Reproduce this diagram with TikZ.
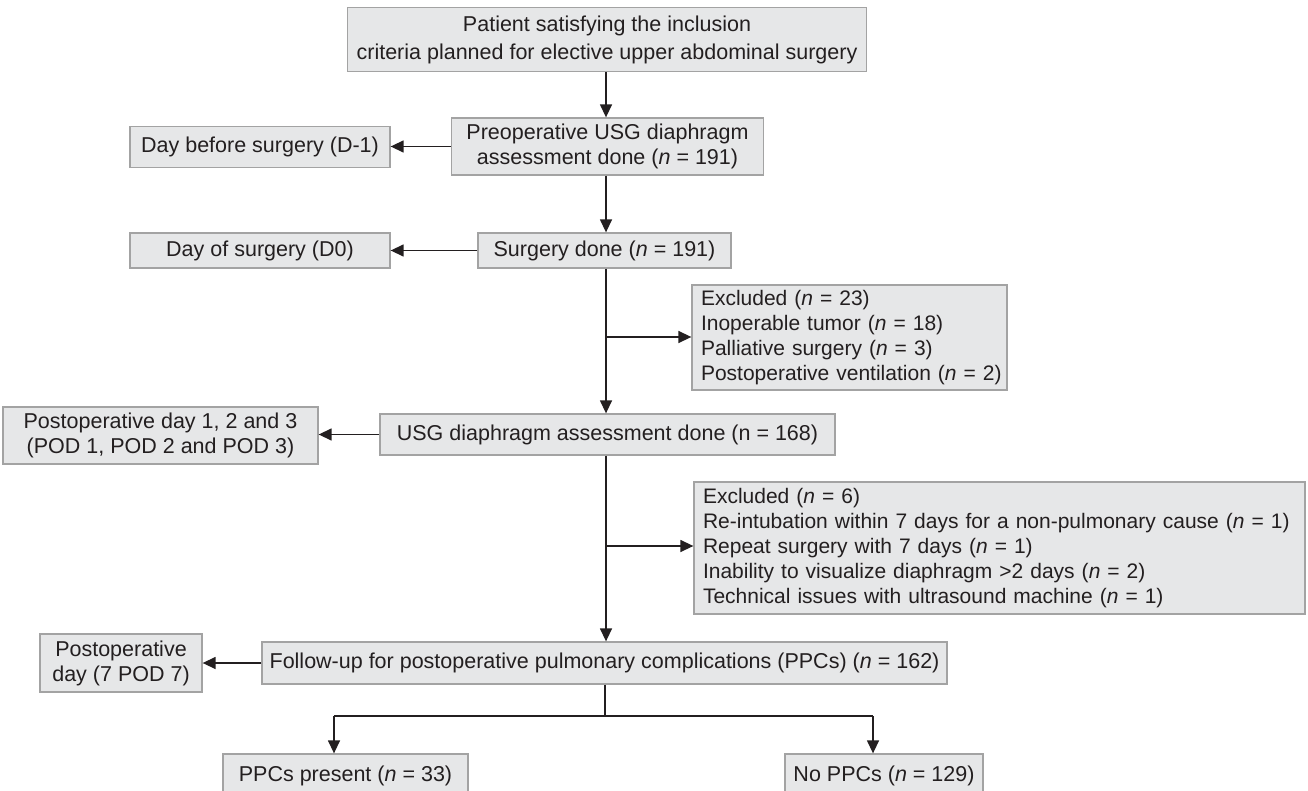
\documentclass[tikz,border=0pt]{standalone}
\usepackage{fontspec}
\setmainfont{Liberation Sans}
\usetikzlibrary{arrows.meta,calc}
\definecolor{boxfill}{HTML}{E6E7E8}
\definecolor{boxline}{HTML}{A3A3A3}
\definecolor{ink}{HTML}{231F20}
\tikzset{
  fbox/.style={draw=boxline, fill=boxfill, line width=1.3pt, inner sep=0pt,
    align=center, text=ink, font=\fontsize{21.5}{25}\selectfont},
  exbox/.style={fbox, align=left, inner xsep=9pt, font=\fontsize{21}{25}\selectfont},
  conn/.style={draw=ink, line width=1.4pt},
  arr/.style={conn, -{Triangle[length=13pt,width=12pt]}}
}
\newcommand{\nn}{\textit{n}}
\begin{document}
\begin{tikzpicture}[x=1pt,y=-1pt]
\useasboundingbox (0,0) rectangle (1308,791);
\fill[white] (0,0) rectangle (1308,791);
\coordinate (main) at (606,0);

\node[fbox, minimum width=519pt, minimum height=64pt, font=\fontsize{21.5}{28}\selectfont] (top) at (607,39.5)
  {Patient satisfying the inclusion\\criteria planned for elective upper abdominal surgery};
\node[fbox, minimum width=312pt, minimum height=57pt] (preop) at (607.5,146.5)
  {Preoperative USG diaphragm\\assessment done (\nn{} = 191)};
\node[fbox, minimum width=260pt, minimum height=41pt] (dbefore) at (260,147)
  {Day before surgery (D-1)};
\node[fbox, minimum width=253pt, minimum height=35pt] (surg) at (604.5,250.5)
  {Surgery done (\nn{} = 191)};
\node[fbox, minimum width=260pt, minimum height=35pt] (dof) at (260,250.5)
  {Day of surgery (D0)};
\node[exbox, minimum width=315pt, minimum height=105pt, text width=297pt] (ex1) at (849.5,337.5)
  {\mbox{Excluded (\nn{} = 23)}\\\mbox{Inoperable tumor (\nn{} = 18)}\\\mbox{Palliative surgery (\nn{} = 3)}\\\mbox{Postoperative ventilation (\nn{} = 2)}};
\node[fbox, minimum width=455pt, minimum height=41pt] (usg) at (607.5,434.5)
  {USG diaphragm assessment done (n = 168)};
\node[fbox, minimum width=315pt, minimum height=57pt] (pod) at (160.5,435.5)
  {Postoperative day 1, 2 and 3\\(POD 1, POD 2 and POD 3)};
\node[exbox, minimum width=611pt, minimum height=132pt, text width=593pt] (ex2) at (999.5,548)
  {\mbox{Excluded (\nn{} = 6)}\\\mbox{Re-intubation within 7 days for a non-pulmonary cause (\nn{} = 1)}\\\mbox{Repeat surgery with 7 days (\nn{} = 1)}\\\mbox{Inability to visualize diaphragm >2 days (\nn{} = 2)}\\\mbox{Technical issues with ultrasound machine (\nn{} = 1)}};
\node[fbox, minimum width=685pt, minimum height=42pt] (fol) at (604.5,663)
  {Follow-up for postoperative pulmonary complications (PPCs) (\nn{} = 162)};
\node[fbox, minimum width=162pt, minimum height=58pt] (pod7) at (121,663)
  {Postoperative\\day (7 POD 7)};
\node[fbox, minimum width=245pt, minimum height=44pt] (yes) at (345.5,776)
  {PPCs present (\nn{} = 33)};
\node[fbox, minimum width=198pt, minimum height=44pt] (no) at (884,776)
  {No PPCs (\nn{} = 129)};

\coordinate (b1) at (606,337);
\coordinate (b2) at (606,546);
\coordinate (split) at (605,716);
\coordinate (ly) at (334,716);
\coordinate (ry) at (873,716);

\draw[arr] (top.south -| main) -- (preop.north -| main);
\draw[arr] (preop.south -| main) -- (surg.north -| main);
\draw[arr] (surg.south -| main) -- (usg.north -| main);
\draw[arr] (b1) -- (ex1.west |- b1);
\draw[arr] (usg.south -| main) -- (fol.north -| main);
\draw[arr] (b2) -- (ex2.west |- b2);
\draw[arr] (preop.west) -- (dbefore.east |- preop.west);
\draw[arr] (surg.west) -- (dof.east |- surg.west);
\draw[arr] (usg.west) -- (pod.east |- usg.west);
\draw[arr] (fol.west) -- (pod7.east |- fol.west);
\draw[conn] (fol.south -| split) -- (split);
\draw[conn] (ly) -- (ry);
\draw[arr] (ly) -- (yes.north -| ly);
\draw[arr] (ry) -- (no.north -| ry);
\end{tikzpicture}
\end{document}
